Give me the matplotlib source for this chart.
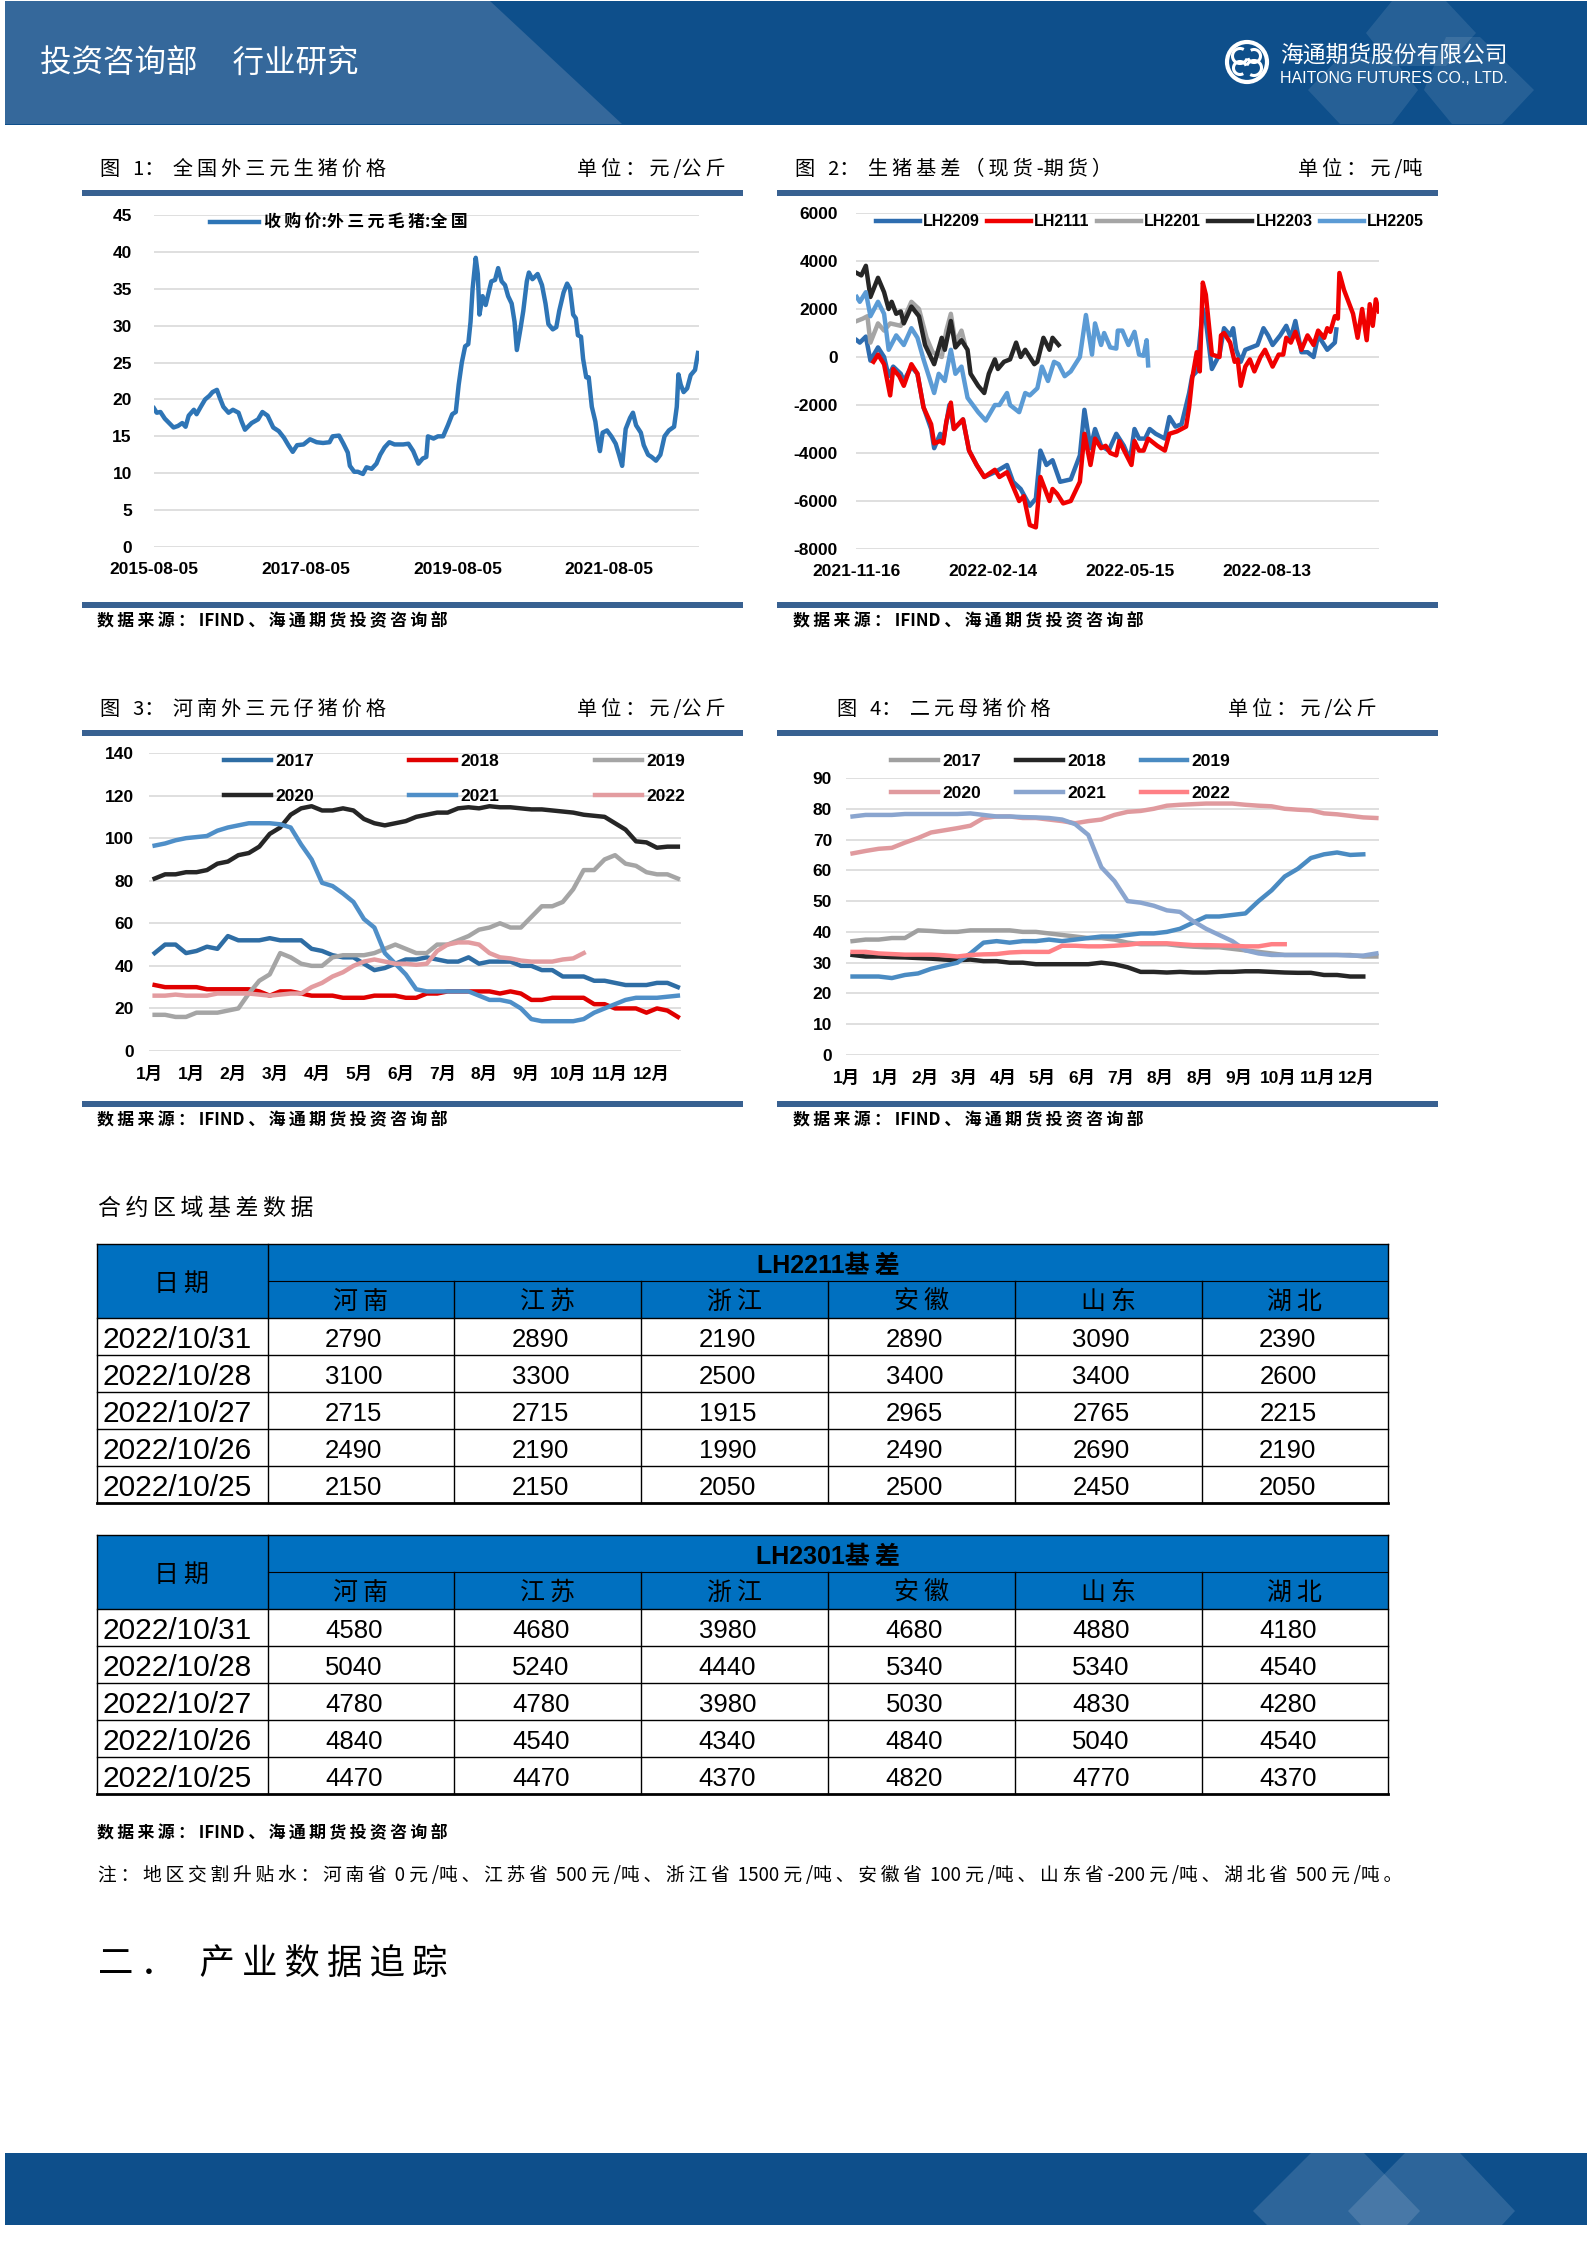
import matplotlib
matplotlib.use("Agg")
import matplotlib.pyplot as plt
from matplotlib.font_manager import FontProperties
from matplotlib.patches import Arc, Circle, Polygon, Rectangle

W, H = 1587, 2245

CJK = ["Noto Sans CJK SC", "DejaVu Sans"]
LATIN = ["Liberation Sans", "Noto Sans CJK SC", "DejaVu Sans"]
plt.rcParams["axes.unicode_minus"] = False

# chart 1: national hog price, x is days since 2015-08-05
hog_days = [
    0, 13, 31, 52, 73, 94, 115, 136, 152, 167,
    192, 205, 225, 246, 267, 282, 303, 317, 334, 359,
    380, 407, 422, 438, 470, 501, 522, 547, 574, 601,
    626, 647, 668, 689, 720, 751, 783, 814, 845, 860,
    891, 912, 933, 943, 964, 981, 1006, 1023, 1048, 1071,
    1089, 1110, 1133, 1158, 1200, 1225, 1248, 1273, 1294, 1311,
    1319, 1346, 1367, 1392, 1415, 1436, 1453, 1467, 1482, 1498,
    1513, 1524, 1534, 1549, 1559, 1567, 1582, 1597, 1607, 1624,
    1642, 1657, 1674, 1690, 1705, 1722, 1736, 1747, 1764, 1778,
    1795, 1805, 1822, 1847, 1868, 1885, 1899, 1920, 1937, 1951,
    1972, 1989, 2003, 2018, 2031, 2041, 2056, 2066, 2081, 2093,
    2108, 2125, 2137, 2147, 2160, 2181, 2202, 2223, 2239, 2254,
    2271, 2292, 2306, 2321, 2344, 2358, 2379, 2396, 2417, 2438,
    2458, 2479, 2504, 2517, 2525, 2536, 2550, 2567, 2584, 2605,
    2619,
]
hog_price = [
    18.8, 18.2, 18.3, 17.4, 16.8, 16.2, 16.4, 16.8, 16.3, 17.8,
    18.6, 18.0, 19.0, 20.0, 20.5, 21.0, 21.3, 20.2, 19.0, 18.2,
    18.6, 18.2, 17.0, 15.9, 16.8, 17.3, 18.3, 17.8, 16.2, 15.7,
    14.8, 13.8, 12.9, 13.8, 13.9, 14.6, 14.2, 14.1, 14.2, 15.0,
    15.1, 14.0, 12.8, 11.0, 10.2, 10.2, 9.9, 10.8, 10.6, 11.3,
    12.5, 13.5, 14.2, 13.9, 13.9, 14.0, 13.0, 11.3, 12.0, 12.2,
    15.0, 14.7, 15.0, 15.0, 16.5, 18.0, 18.3, 22.0, 25.0, 27.2,
    27.5, 30.5, 35.0, 39.2, 37.0, 31.5, 34.0, 32.8, 34.0, 36.0,
    36.2, 37.8, 36.0, 35.5, 34.0, 33.0, 30.5, 26.7, 29.5, 32.0,
    36.0, 37.2, 36.3, 37.0, 35.5, 33.0, 30.2, 29.5, 29.8, 32.0,
    34.5, 35.7, 35.0, 31.5, 31.0, 28.7, 28.5, 25.5, 23.0, 23.0,
    19.0, 17.0, 14.5, 13.0, 15.5, 15.8, 15.0, 14.0, 12.5, 11.0,
    16.0, 17.5, 18.2, 16.5, 15.5, 13.8, 12.5, 12.2, 11.7, 12.5,
    15.0, 15.8, 16.3, 19.0, 23.4, 22.0, 21.0, 21.5, 23.3, 24.0,
    26.3,
]
hog_tick_days = [0, 731, 1461, 2192]
hog_tick_labels = ["2015-08-05", "2017-08-05", "2019-08-05", "2021-08-05"]

# chart 2: basis, x is days since 2021-11-16
lh2209_days = [
    0, 2, 6, 9, 14, 18, 21, 24, 29, 31, 36, 40, 44, 49, 51, 55, 57, 61, 64, 70,
    74, 79, 84, 91, 99, 103, 108, 114, 118, 121, 125, 129, 134, 141, 147, 150,
    154, 157, 161, 166, 171, 176, 180, 183, 186, 190, 193, 197, 203, 206, 210,
    214, 219, 221, 224, 228, 230, 234, 239, 242, 246, 248, 250, 253, 256, 260,
    264, 268, 271, 274, 279, 283, 286, 289, 293, 297, 301, 304, 310, 315, 316,
]
lh2209 = [
    700, 600, 850, -150, 400, 0, -800, -400, -700, -1000, -400, -700, -2100,
    -3000, -3800, -3200, -3500, -2000, -3000, -2600, -3900, -4500, -5000,
    -4800, -4500, -5200, -5500, -6200, -5900, -3900, -4500, -4300, -5200,
    -5100, -4100, -2200, -3800, -3000, -3700, -3900, -3200, -3700, -4300,
    -3000, -3400, -3400, -3000, -3200, -3400, -2500, -2900, -2800, -1500,
    -800, -600, 2000, 1500, -500, 100, 1200, 900, 1200, 300, -200, 300, 400,
    500, 1200, 900, 500, 900, 1300, 800, 1500, 200, 200, 0, 900, 300, 600, 1150,
]
lh2111_days = [
    11, 14, 18, 22, 24, 28, 31, 36, 40, 44, 49, 51, 55, 57, 59, 62, 64, 70, 74,
    79, 84, 91, 94, 99, 103, 107, 110, 114, 118, 121, 127, 129, 132, 136, 141,
    147, 150, 154, 157, 161, 164, 167, 171, 173, 177, 181, 183, 186, 189, 192,
    198, 203, 206, 211, 217, 219, 221, 224, 226, 228, 230, 234, 239, 240, 242,
    246, 249, 251, 253, 256, 259, 262, 266, 269, 274, 278, 281, 283, 286, 289,
    293, 297, 301, 304, 308, 310, 312, 315, 317, 318, 321, 327, 330, 333, 336,
    338, 340, 342, 344,
]
lh2111 = [
    -200, 100, -300, -1600, -500, -800, -1200, -300, -700, -2100, -2800, -3600,
    -3500, -3600, -2700, -1900, -3000, -2600, -3900, -4500, -5000, -4700,
    -5000, -4800, -5400, -6000, -5800, -7000, -7100, -5000, -6000, -5500,
    -5700, -6100, -6000, -5200, -3200, -4500, -3400, -3800, -3700, -4000,
    -4100, -3500, -4000, -4500, -3500, -3900, -3900, -3400, -3700, -3900,
    -3200, -3100, -2900, -2100, -900, 200, -600, 3100, 2600, 100, 0, 900, 1000,
    600, -200, -100, -1200, -400, -100, -600, 0, 300, -400, 100, 100, 800, 600,
    1050, 300, 900, 500, 1100, 800, 1200, 1050, 1700, 1600, 3500, 2800, 1800,
    800, 2000, 700, 2200, 1300, 2400, 1900,
]
lh2201_days = [0, 4, 7, 9, 14, 18, 22, 29, 36, 41, 46, 50, 56, 59, 62, 65, 69, 71]
lh2201 = [1500, 1600, 1700, 600, 1400, 1100, 1400, 1300, 2300, 2000, 800, 200,
          0, 1100, 1800, 600, 1100, 600]
lh2203_days = [
    0, 3, 6, 9, 14, 18, 21, 23, 26, 29, 31, 36, 41, 45, 51, 56, 58, 62, 65, 69,
    73, 75, 80, 84, 87, 91, 93, 97, 101, 105, 108, 111, 117, 119, 123, 127, 129,
    133,
]
lh2203 = [
    3500, 3400, 3800, 2500, 3300, 2700, 2000, 2300, 1800, 1900, 1400, 2100, 1700,
    500, -300, 800, 300, 1500, 400, 700, 300, -700, -1200, -1500, -700, -100,
    -500, -200, -100, 600, 0, 300, -300, -200, 800, 300, 800, 500,
]
lh2205_days = [
    0, 2, 6, 9, 14, 18, 21, 26, 31, 36, 40, 44, 51, 54, 58, 62, 65, 69, 73, 80,
    85, 91, 94, 99, 101, 107, 111, 114, 119, 122, 126, 130, 133, 137, 141, 147,
    151, 155, 157, 161, 163, 167, 171, 172, 175, 179, 183, 186, 189, 191, 192,
]
lh2205 = [
    2500, 2300, 2700, 1700, 2300, 1800, 300, 900, 500, 1200, 800, -100, -1500,
    -700, -1000, 300, -700, -400, -1700, -2300, -2650, -2000, -2000, -1500,
    -2000, -2300, -1500, -1600, -1300, -400, -1000, -200, -300, -800, -600, 0,
    1750, 100, 1400, 500, 1000, 400, 350, 1100, 1100, 500, 1050, 100, 50, 700,
    -350,
]
basis_tick_days = [0, 90, 180, 270]
basis_tick_labels = ["2021-11-16", "2022-02-14", "2022-05-15", "2022-08-13"]

# chart 3: piglet price in Henan, one value per week
piglet_2017 = [
    46, 50, 50, 46, 47, 49, 48, 54, 52, 52, 52, 53, 52, 52, 52, 48, 47, 45, 44,
    44, 41, 38, 39, 41, 43, 43, 44, 43, 42, 42, 44, 41, 42, 42, 42, 40, 40, 38,
    38, 35, 35, 35, 33, 33, 32, 31, 31, 31, 32, 32, 30,
]
piglet_2018 = [
    31, 30, 30, 30, 30, 29, 29, 29, 29, 29, 28, 26, 28, 28, 27, 26, 26, 26, 25,
    25, 25, 26, 26, 26, 25, 25, 27, 27, 28, 28, 28, 28, 28, 27, 28, 27, 24, 24,
    25, 25, 25, 25, 22, 22, 20, 20, 20, 18, 20, 19, 16,
]
piglet_2019 = [
    17, 17, 16, 16, 18, 18, 18, 19, 20, 27, 33, 36, 46, 44, 41, 40, 40, 44, 45,
    45, 45, 46, 48, 50, 48, 46, 46, 50, 50, 52, 54, 57, 58, 60, 58, 58, 63, 68,
    68, 70, 76, 85, 85, 90, 92, 88, 87, 84, 83, 83, 81,
]
piglet_2020 = [
    81, 83, 83, 84, 84, 85, 88, 89, 92, 93, 96, 102, 105, 111, 114, 115, 113,
    113, 114, 113, 109, 107, 106, 107, 108, 110, 111, 112, 112, 114, 114.5, 114,
    115, 114.5, 114.5, 114, 113.5, 113.5, 113, 112.5, 112, 111, 110.5, 110, 107,
    104, 98.5, 98, 95.5, 96, 96,
]
piglet_2021 = [
    96.5, 97.5, 99, 100, 100.5, 101, 103.5, 105, 106, 107, 107, 107, 106.5, 105,
    97, 90, 79, 77.5, 74, 70, 62, 58, 46, 41, 36, 29, 28, 28, 28, 28, 28, 26, 24,
    24, 23, 20, 15, 14, 14, 14, 14, 15, 18, 20, 22, 24, 25, 25, 25, 25.5, 26,
]
piglet_2022 = [
    26, 26, 26.5, 26, 26, 26, 27, 27, 27, 27, 26.5, 26, 26.5, 27, 27, 30, 32, 35,
    37, 40, 42, 43, 42, 41, 41, 40.5, 41, 47, 50, 51, 51, 50, 46, 44, 43.5, 42.5,
    42, 42, 42, 43, 43.5, 46,
]
piglet_months = ["1月", "1月", "2月", "3月", "4月", "5月", "6月", "7月", "8月",
                 "9月", "10月", "11月", "12月"]

# chart 4: breeding sow price, one value every ten days
sow_2017 = [
    37, 37.5, 37.5, 38, 38, 40.5, 40.3, 40, 40, 40.5, 40.5, 40.5, 40.5, 40, 40,
    39.5, 39, 38.5, 38, 38, 37.5, 36.5, 36, 36, 36, 35.5, 35.2, 35, 35, 34.5, 34,
    33.5, 33, 32.5, 32.5, 32.5, 32.5, 32.5, 32.5, 32, 32,
]
sow_2018 = [
    32.5, 32, 32, 31.8, 31.7, 31.5, 31.3, 31, 30.8, 31, 30.5, 30.5, 30, 30, 29.5,
    29.5, 29.5, 29.5, 29.5, 30, 29.5, 28.5, 27, 27, 26.8, 27, 26.8, 26.8, 27, 27,
    27.2, 27.2, 27, 26.8, 26.7, 26.7, 26, 26, 25.5, 25.5,
]
sow_2019 = [
    25.5, 25.5, 25.5, 25, 26, 26.5, 28, 29, 30, 33, 36.5, 37, 36.5, 37, 37, 37.5,
    37, 37.5, 38, 38.5, 38.5, 39, 39.5, 39.5, 40, 41, 43, 45, 45, 45.5, 46, 50,
    53.5, 58, 60.5, 64, 65.2, 65.8, 65, 65.2,
]
sow_2020 = [
    65.5, 66.3, 67, 67.3, 69, 70.5, 72.3, 73, 73.7, 74.5, 77, 77.5, 77.5, 77, 77,
    76.5, 76, 75.3, 76, 76.5, 78, 79, 79.3, 80, 81, 81.3, 81.5, 81.7, 81.7, 81.7,
    81.3, 81, 80.8, 80, 79.7, 79.5, 78.5, 78.2, 77.7, 77.2, 77,
]
sow_2021 = [
    77.5, 78, 78, 78, 78.3, 78.3, 78.3, 78.3, 78.3, 78.5, 78, 77.5, 77.5, 77.3,
    77.2, 77, 76.5, 75, 71.5, 61, 56.5, 50, 49.5, 48.5, 47, 46.5, 43.5, 41, 39,
    37, 34, 33, 32.5, 32.5, 32.5, 32.5, 32.5, 32.5, 32.3, 32.3, 33,
]
sow_2022 = [
    33.5, 33.5, 33, 32.8, 32.6, 32.6, 32.6, 32.4, 32, 32.5, 32.7, 32.8, 33.3,
    33.5, 33.5, 33.5, 35.5, 35.5, 35.3, 35.3, 35.5, 35.8, 36.3, 36.3, 36.3, 36,
    35.7, 35.7, 35.6, 35.5, 35.3, 35.3, 36, 36,
]
sow_months = ["1月", "1月", "2月", "3月", "4月", "5月", "6月", "7月", "8月", "8月",
              "9月", "10月", "11月", "12月"]

# basis tables
regions = ["河南", "江苏", "浙江", "安徽", "山东", "湖北"]
table_dates = ["2022/10/31", "2022/10/28", "2022/10/27", "2022/10/26", "2022/10/25"]
lh2211_basis = [
    [2790, 2890, 2190, 2890, 3090, 2390],
    [3100, 3300, 2500, 3400, 3400, 2600],
    [2715, 2715, 1915, 2965, 2765, 2215],
    [2490, 2190, 1990, 2490, 2690, 2190],
    [2150, 2150, 2050, 2500, 2450, 2050],
]
lh2301_basis = [
    [4580, 4680, 3980, 4680, 4880, 4180],
    [5040, 5240, 4440, 5340, 5340, 4540],
    [4780, 4780, 3980, 5030, 4830, 4280],
    [4840, 4540, 4340, 4840, 5040, 4540],
    [4470, 4470, 4370, 4820, 4770, 4370],
]

BAND = "#0E4F8B"
RULE = "#386191"
GRID = "#D9D9D9"
TABLE_BLUE = "#0070C0"
TEXT_DY = 2.5
COLON = "\uff1a"

fig = plt.figure(figsize=(W / 100, H / 100), dpi=100, facecolor="white")

# whole page in pixel coordinates, charts sit on top of it
page = fig.add_axes([0, 0, 1, 1], zorder=0)
page.set_xlim(0, W)
page.set_ylim(H, 0)
page.axis("off")


def track(s):
    # the report sets its Chinese text with open letter spacing
    out = ""
    for i, ch in enumerate(s):
        out += ch
        if ord(ch) > 127 and i < len(s) - 1:
            out += "\u2009"
    return out


def put(x, y, s, size, ha="left", color="black", family=CJK, weight="normal"):
    page.text(x, y + TEXT_DY, s, fontsize=size, ha=ha, va="center", color=color,
              family=family, weight=weight)


def diamond(points, alpha=0.13):
    page.add_patch(Polygon(points, closed=True, facecolor="white", alpha=alpha,
                           edgecolor="none"))


# header band
page.add_patch(Rectangle((5, 1), W - 5, 124, facecolor=BAND, edgecolor="none"))
page.add_patch(Polygon([(5, 1), (490, 1), (622, 124), (5, 124)], closed=True,
                       facecolor="#35689B", edgecolor="none"))
diamond([(1392, 1), (1446, 1), (1476, 33), (1446, 66), (1392, 66), (1366, 33)], 0.10)
diamond([(1340, 57), (1392, 57), (1418, 90), (1392, 124), (1340, 124), (1308, 90)], 0.10)
diamond([(1446, 37), (1480, 37), (1534, 90), (1502, 124), (1452, 124), (1424, 90)], 0.10)
put(40, 61, "投资咨询部     行业研究", 22.7, color="white")

# logo
page.add_patch(Circle((1247, 62), 20, facecolor="none", edgecolor="white", lw=3))
page.add_patch(Arc((1240, 56), 15, 15, theta1=20, theta2=300, edgecolor="white", lw=2.2))
page.add_patch(Arc((1254, 68), 15, 15, theta1=200, theta2=120, edgecolor="white", lw=2.2))
page.add_patch(Arc((1254, 56), 13, 13, theta1=240, theta2=160, edgecolor="white", lw=2.2))
page.add_patch(Arc((1240, 68), 13, 13, theta1=60, theta2=340, edgecolor="white", lw=2.2))
put(1280, 53, "海通期货股份有限公司", 16.4, color="white")
put(1280, 76, "HAITONG FUTURES CO., LTD.", 11.5, color="white", family=LATIN)

# footer band
page.add_patch(Rectangle((5, 2153), W - 5, 72, facecolor=BAND, edgecolor="none"))
diamond([(1311, 2153), (1364, 2153), (1420, 2211), (1407, 2225), (1267, 2225), (1253, 2211)])
diamond([(1405, 2153), (1460, 2153), (1515, 2211), (1502, 2225), (1361, 2225), (1348, 2211)])

# rules, titles and source lines
for left, top in [(82, 190), (777, 190), (82, 602), (777, 602),
                  (82, 730), (777, 730), (82, 1101), (777, 1101)]:
    page.add_patch(Rectangle((left, top), 661, 6, facecolor=RULE, edgecolor="none"))

SOURCE = track("数据来源" + COLON) + " IFIND " + track("、海通期货投资咨询部")
put(100, 167, track("图  1" + COLON + " 全国外三元生猪价格"), 14.5)
put(726, 167, track("单位" + COLON + "元/公斤"), 14.5, ha="right")
put(795, 167, track("图  2" + COLON + " 生猪基差\uff08现货-期货\uff09"), 14.5)
put(1422, 167, track("单位" + COLON + "元/吨"), 14.5, ha="right")
put(100, 707, track("图  3" + COLON + " 河南外三元仔猪价格"), 14.5)
put(726, 707, track("单位" + COLON + "元/公斤"), 14.5, ha="right")
put(837, 707, track("图  4" + COLON + " 二元母猪价格"), 14.5)
put(1377, 707, track("单位" + COLON + "元/公斤"), 14.5, ha="right")
put(97, 619, SOURCE, 12.2, weight="bold")
put(793, 619, SOURCE, 12.2, weight="bold")
put(97, 1118, SOURCE, 12.2, weight="bold")
put(793, 1118, SOURCE, 12.2, weight="bold")

put(98, 1206, track("合约区域基差数据"), 16.5)
put(97, 1831, SOURCE, 12.2, weight="bold")
put(98, 1873, track("注" + COLON + "地区交割升贴水" + COLON + "河南省 0 元/吨、江苏省 500 元/吨、"
                    "浙江省 1500 元/吨、安徽省 100 元/吨、山东省-200 元/吨、湖北省 500 元/吨。"), 13.5)
put(98, 1961, track("二\uff0e") + "   " + track("产业数据追踪"), 25.5)


def draw_table(top, contract, rows):
    left, first, cell, row_h = 97, 267.5, 186.8, 37
    right = first + 6 * cell
    bottom = top + 7 * row_h
    page.add_patch(Rectangle((left, top), right - left, 2 * row_h,
                             facecolor=TABLE_BLUE, edgecolor="none"))
    # grid
    for i in range(2, 7):
        y = top + i * row_h
        page.plot([left, right], [y, y], color="black", lw=1)
    page.plot([first, right], [top + row_h] * 2, color="black", lw=0.8)
    page.plot([left, right], [top, top], color="black", lw=1)
    page.plot([left, right], [bottom, bottom], color="black", lw=2)
    page.plot([left, left], [top, bottom], color="black", lw=1)
    page.plot([right, right], [top, bottom], color="black", lw=1)
    page.plot([first, first], [top, bottom], color="black", lw=1)
    for j in range(1, 6):
        x = first + j * cell
        page.plot([x, x], [top + row_h, bottom], color="black", lw=1)
    # header
    put((left + first) / 2 - 1, top + row_h, track("日期"), 18, ha="center")
    put((first + right) / 2, top + row_h / 2 + 1, contract + track("基差"), 18, ha="center",
        family=LATIN, weight="bold")
    for j, name in enumerate(regions):
        put(first + (j + 0.5) * cell, top + 1.5 * row_h, track(name), 18, ha="center")
    # rows
    for i, (day, values) in enumerate(zip(table_dates, rows)):
        y = top + (i + 2.5) * row_h + 1
        put(102, y, day, 21.5, family=["Liberation Sans"])
        for j, v in enumerate(values):
            put(first + (j + 0.5) * cell - 7, y, str(v), 18.5, ha="center",
                family=["Liberation Sans"])


draw_table(1244, "LH2211", lh2211_basis)
draw_table(1535, "LH2301", lh2301_basis)


def chart_axes(left, top, right, bottom, xlim, ylim, yticks, ypad, xpad):
    ax = fig.add_axes([left / W, 1 - bottom / H, (right - left) / W, (bottom - top) / H],
                      zorder=1)
    ax.patch.set_visible(False)
    for s in ax.spines.values():
        s.set_visible(False)
    ax.set_xlim(*xlim)
    ax.set_ylim(*ylim)
    ax.set_yticks(yticks)
    ax.grid(axis="y", color=GRID, lw=1.2)
    ax.set_axisbelow(True)
    ax.tick_params(axis="y", length=0, pad=ypad)
    ax.tick_params(axis="x", length=0, pad=xpad)
    return ax


def style_labels(ax, size=12.5):
    for t in ax.get_xticklabels() + ax.get_yticklabels():
        t.set_fontfamily(LATIN)
        t.set_fontweight("bold")
        t.set_fontsize(size)


LW = 3.2

# chart 1
ax1 = chart_axes(154, 215, 699, 547, (0, 2624), (0, 45), range(0, 46, 5), 16, 11)
ax1.plot(hog_days, hog_price, color="#2E75B6", lw=LW, solid_joinstyle="round",
         label=track("收购价") + ":" + track("外三元毛猪") + ":" + track("全国"))
ax1.set_xticks(hog_tick_days, hog_tick_labels)
style_labels(ax1)
ax1.legend(loc="center left", bbox_to_anchor=(210 / W, 1 - 223 / H),
           bbox_transform=fig.transFigure, frameon=False, borderpad=0, borderaxespad=0,
           handlelength=2.9, handletextpad=0.3,
           prop=FontProperties(family=CJK, size=12.2, weight="bold"))

# chart 2
ax2 = chart_axes(856, 213, 1379, 549, (-0.5, 344.1), (-8000, 6000),
                 range(-8000, 6001, 2000), 13, 11)
ax2.plot(lh2209_days, lh2209, color="#2E6DB0", lw=LW, label="LH2209")
ax2.plot(lh2201_days, lh2201, color="#A5A5A5", lw=LW, label="LH2201")
ax2.plot(lh2203_days, lh2203, color="#262626", lw=LW, label="LH2203")
ax2.plot(lh2205_days, lh2205, color="#5B9BD5", lw=LW, label="LH2205")
ax2.plot(lh2111_days, lh2111, color="#F00000", lw=LW, label="LH2111")
ax2.set_xticks(basis_tick_days, basis_tick_labels)
style_labels(ax2)
handles, labels = ax2.get_legend_handles_labels()
order = [0, 4, 1, 2, 3]
ax2.legend([handles[i] for i in order], [labels[i] for i in order], ncol=5,
           loc="center left", bbox_to_anchor=(876 / W, 1 - 222 / H),
           bbox_transform=fig.transFigure, frameon=False, borderpad=0, borderaxespad=0,
           handlelength=2.75, handletextpad=0.2, columnspacing=0.45,
           prop=FontProperties(family=LATIN, size=11.5, weight="bold"))

# chart 3
ax3 = chart_axes(149.4, 753, 681, 1051, (-0.5, 50.3), (0, 140), range(0, 141, 20), 11, 11)
piglet_series = [("2017", piglet_2017, "#2E6DA4"), ("2018", piglet_2018, "#E00000"),
                 ("2019", piglet_2019, "#A5A5A5"), ("2020", piglet_2020, "#262626"),
                 ("2021", piglet_2021, "#4F8FC8"), ("2022", piglet_2022, "#E39CA0")]
for name, vals, col in piglet_series:
    ax3.plot(range(len(vals)), vals, color=col, lw=LW, label=name)
ax3.set_xticks([i * 4 - 0.5 for i in range(len(piglet_months))], piglet_months)
style_labels(ax3)
handles, labels = ax3.get_legend_handles_labels()
order = [0, 3, 1, 4, 2, 5]
ax3.legend([handles[i] for i in order], [labels[i] for i in order], ncol=3,
           loc="upper left", bbox_to_anchor=(224 / W, 1 - 754 / H),
           bbox_transform=fig.transFigure, frameon=False, borderpad=0, borderaxespad=0,
           handlelength=2.7, handletextpad=0.25, columnspacing=5.5, labelspacing=1.15,
           prop=FontProperties(family=LATIN, size=12.5, weight="bold"))

# chart 4
ax4 = chart_axes(846, 778, 1379, 1055, (-0.5, 40.2), (0, 90), range(0, 91, 10), 10, 11)
sow_series = [("2017", sow_2017, "#A0A0A0"), ("2018", sow_2018, "#262626"),
              ("2019", sow_2019, "#4A8BC2"), ("2020", sow_2020, "#E09A9E"),
              ("2021", sow_2021, "#8AA5CF"), ("2022", sow_2022, "#FF8085")]
for name, vals, col in sow_series:
    ax4.plot(range(len(vals)), vals, color=col, lw=LW, label=name)
ax4.set_xticks([i * 3 - 0.5 for i in range(len(sow_months))], sow_months)
style_labels(ax4)
handles, labels = ax4.get_legend_handles_labels()
ax4.legend([handles[i] for i in order], [labels[i] for i in order], ncol=3,
           loc="upper left", bbox_to_anchor=(891 / W, 1 - 754 / H),
           bbox_transform=fig.transFigure, frameon=False, borderpad=0, borderaxespad=0,
           handlelength=2.7, handletextpad=0.25, columnspacing=2.0, labelspacing=0.95,
           prop=FontProperties(family=LATIN, size=12.5, weight="bold"))

fig.savefig("out.png", dpi=100)
